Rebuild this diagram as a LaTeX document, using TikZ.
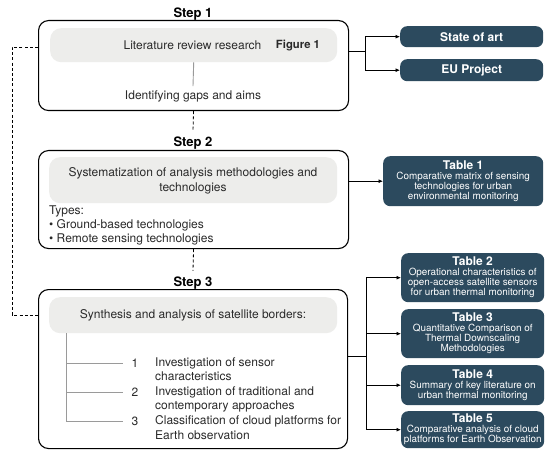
\documentclass[tikz,border=0pt]{standalone}
\usepackage{fontspec}
\setmainfont{TeX Gyre Heros}
\usetikzlibrary{arrows.meta}
\definecolor{navy}{HTML}{2C4A5E}
\definecolor{panel}{HTML}{EDEDEB}
\definecolor{txt}{HTML}{2A2A2A}
\definecolor{treeg}{HTML}{9A9A9A}
\newcommand{\tabtitlefont}{\fontsize{12}{12}\selectfont\bfseries}
\newcommand{\tabbodyfont}{\fontsize{9.9}{10}\selectfont}
\begin{document}
\begin{tikzpicture}[x=1pt,y=-1pt,
  stepbox/.style={draw=black, line width=1.1pt, rounded corners=10pt, inner sep=0, anchor=north west},
  panelbox/.style={fill=panel, rounded corners=11pt, inner sep=0, anchor=north west},
  tabbox/.style={fill=navy, rounded corners=7pt, inner sep=0, anchor=north west, text=white, align=center, font=\tabbodyfont},
  steplabel/.style={font=\fontsize{13}{15}\selectfont\bfseries, anchor=base, inner sep=6pt},
  body/.style={font=\fontsize{12}{14.5}\selectfont, text=txt, inner sep=0},
  arr/.style={-{Latex[length=4.5pt,width=4pt]}, line width=0.8pt},
  link/.style={line width=0.8pt},
  dashlink/.style={line width=0.8pt, dash pattern=on 3pt off 2.2pt},
  treeline/.style={draw=treeg, line width=0.9pt}
]
\useasboundingbox[fill=white] (0,0) rectangle (550,460);

% ---- Step 1
\node[steplabel] (s1) at (193,17.7) {Step 1};
\node[stepbox, minimum width=310, minimum height=90] (b1) at (38,20) {};
\node[panelbox, minimum width=287, minimum height=34] (p1) at (50,28) {};
\node[body] (lit) at (192.5,45) {Literature review research};
\node[body, font=\fontsize{11.3}{14}\selectfont\bfseries] (fig) at (298,46) {Figure 1};
\node[body] (gap) at (193,96) {Identifying gaps and aims};
\draw[treeline] (p1.south) -- ([yshift=4pt]gap.north);

% ---- Step 2
\node[steplabel] (s2) at (193,146.7) {Step 2};
\node[stepbox, minimum width=310, minimum height=98] (b2) at (38,150) {};
\node[panelbox, minimum width=288, minimum height=46] (p2) at (49,157) {};
\node[body, align=center, font=\fontsize{12}{15}\selectfont] (sys) at (193,180.5) {Systematization of analysis methodologies and\\technologies};
\node[body, align=left, anchor=north west, font=\fontsize{12}{14}\selectfont] (types) at (49,205.5) {Types:\\• Ground-based technologies\\• Remote sensing technologies};

% ---- Step 3
\node[steplabel] (s3) at (193,286.7) {Step 3};
\node[stepbox, minimum width=309, minimum height=159] (b3) at (38,289) {};
\node[panelbox, minimum width=288, minimum height=36] (p3) at (49,297) {};
\node[body] (syn) at (193,315) {Synthesis and analysis of satellite borders:};

\coordinate (tx) at (66,0);
\node[body, inner xsep=8pt] (n1) at (135,363) {1};
\node[body, inner xsep=8pt] (n2) at (135,392.5) {2};
\node[body, inner xsep=8pt] (n3) at (135,421.5) {3};
\node[body, align=left, anchor=north west] (i1) at (155,357.5) {Investigation of sensor\\characteristics};
\node[body, align=left, anchor=north west] (i2) at (155,386.5) {Investigation of traditional and\\contemporary approaches};
\node[body, align=left, anchor=north west] (i3) at (155,415.5) {Classification of cloud platforms for\\Earth observation};
\draw[treeline] (p3.south -| tx) -- (tx |- n3.west) -- (n3.west);
\draw[treeline] (tx |- n1.west) -- (n1.west);
\draw[treeline] (tx |- n2.west) -- (n2.west);

% ---- dashed links
\draw[dashlink] (b1.south) -- (s2.north);
\draw[dashlink] (b2.south) -- (s3.north);
\coordinate (lt) at (12,47);
\coordinate (lb) at (12,315);
\draw[dashlink] (b1.west |- lt) -- (lt) -- (lb) -- (b3.west |- lb);

% ---- right boxes
\node[tabbox, minimum width=143, minimum height=21, font=\tabtitlefont] (sa) at (400,26) {State of art};
\node[tabbox, minimum width=143, minimum height=22, font=\tabtitlefont] (eu) at (400,59) {EU Project};

\node[tabbox, minimum width=160, minimum height=50] (t1) at (383,156)
  {{\tabtitlefont Table 1}\\Comparative matrix of sensing\\technologies for urban\\environmental monitoring};
\node[tabbox, minimum width=143, minimum height=49] (t2) at (401,253)
  {{\tabtitlefont Table 2}\\Operational characteristics of\\open-access satellite sensors\\for urban thermal monitoring};
\node[tabbox, minimum width=143, minimum height=49] (t3) at (401,309)
  {{\tabtitlefont Table 3}\\Quantitative Comparison of\\Thermal Downscaling\\Methodologies};
\node[tabbox, minimum width=143, minimum height=40] (t4) at (401,365)
  {{\tabtitlefont Table 4}\\Summary of key literature on\\urban thermal monitoring};
\node[tabbox, minimum width=143, minimum height=37] (t5) at (401,411)
  {{\tabtitlefont Table 5}\\Comparative analysis of cloud\\platforms for Earth Observation};

% ---- solid connectors
\coordinate (j1) at (365,51);
\draw[link] (b1.east |- j1) -- (j1);
\draw[arr] (j1) |- (sa.west);
\draw[arr] (j1) |- (eu.west);

\draw[arr] (b2.east |- t1.west) -- (t1.west);

\coordinate (j3) at (366,356);
\draw[link] (b3.east |- j3) -- (j3);
\draw[arr] (j3) |- (t2.west);
\draw[arr] (j3) |- (t3.west);
\draw[arr] (j3) |- (t4.west);
\draw[arr] (j3) |- (t5.west);
\end{tikzpicture}
\end{document}
